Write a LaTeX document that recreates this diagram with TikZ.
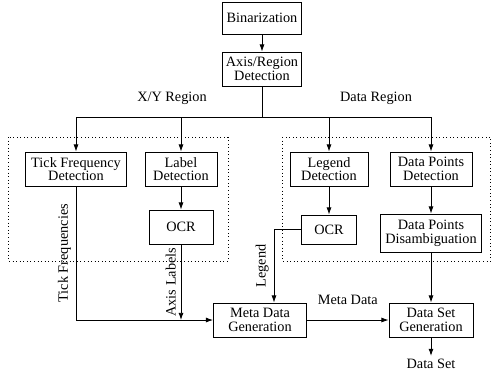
\documentclass[tikz,border=0pt]{standalone}
\usepackage{fontspec}
\setmainfont{Liberation Serif}
\usetikzlibrary{positioning,calc,arrows.meta}
\newcommand{\pxu}{0.7pt}
\tikzset{
  stage/.style={draw, rectangle, align=center, inner sep=0pt, minimum height=34*\pxu},
  region/.style={draw, dotted, line width=0.5pt},
}

\begin{document}
\begin{tikzpicture}[x=\pxu, y=-\pxu, >={Latex[length=5pt,width=3.5pt]}, line width=0.6pt,
    font=\fontsize{10pt}{9.6pt}\selectfont]
    \useasboundingbox (0,0) rectangle (491,372);

    % dotted regions
    \draw[region] (8,137) rectangle (228,261);
    \draw[region] (282,137) rectangle (490.5,261);

    \node (bin) [stage, minimum width=79*\pxu, minimum height=32*\pxu] at (262,18) {Binarization};
    \node (axis) [stage, minimum width=79*\pxu] at (262,69) {Axis/Region\\Detection};

    \node (xyreg) at (172,98) {X/Y Region};
    \node (datareg) at (376,98) {Data Region};

    \node (tick) [stage, minimum width=101*\pxu] at (76,169) {Tick Frequency\\Detection};
    \node (label) [stage, minimum width=72*\pxu] at (181,169) {Label\\Detection};
    \node (legdet) [stage, minimum width=78*\pxu] at (329,169) {Legend\\Detection};
    \node (dpdet) [stage, minimum width=82*\pxu] at (431,169) {Data Points\\Detection};

    \node (ocr1) [stage, minimum width=64*\pxu] at (181,227) {OCR};
    \node (ocr2) [stage, minimum width=55*\pxu, minimum height=29*\pxu] at (329,229.5) {OCR};
    \node (disamb) [stage, minimum width=101*\pxu, minimum height=38*\pxu] at (431,233) {Data Points\\Disambiguation};

    \node (metagen) [stage, minimum width=93*\pxu] at (260,320) {Meta Data\\Generation};
    \node (dsgen) [stage, minimum width=84*\pxu] at (431,320) {Data Set\\Generation};
    \node (dataset) [inner sep=2pt] at (431,364) {Data Set};

    \coordinate (split) at (262,117);
    \coordinate (axlab) at (ocr1 |- metagen);

    \draw[->] (bin) -- (axis);
    \draw (axis) -- (split);
    \draw[->] (split) -| (tick);
    \draw[->] (split) -| (label);
    \draw[->] (split) -| (legdet);
    \draw[->] (split) -| (dpdet);

    \draw[->] (label) -- (ocr1);
    \draw[->] (legdet) -- (ocr2);
    \draw[->] (dpdet) -- (disamb);
    \draw[->] (disamb) -- (dsgen);

    \draw[->] (tick) |- node[pos=0.25, rotate=90, above] {Tick Frequencies} (metagen);
    \draw[->] (ocr1) -- node[midway, rotate=90, above] {Axis Labels} (axlab);
    \draw[->] (ocr2.west) -| node[pos=0.75, rotate=90, above] {Legend} ([xshift=14*\pxu]metagen.north);

    \draw[->] (metagen) -- node[above=7pt] {Meta Data} (dsgen);
    \draw[->] (dsgen) -- (dataset);
\end{tikzpicture}
\end{document}
